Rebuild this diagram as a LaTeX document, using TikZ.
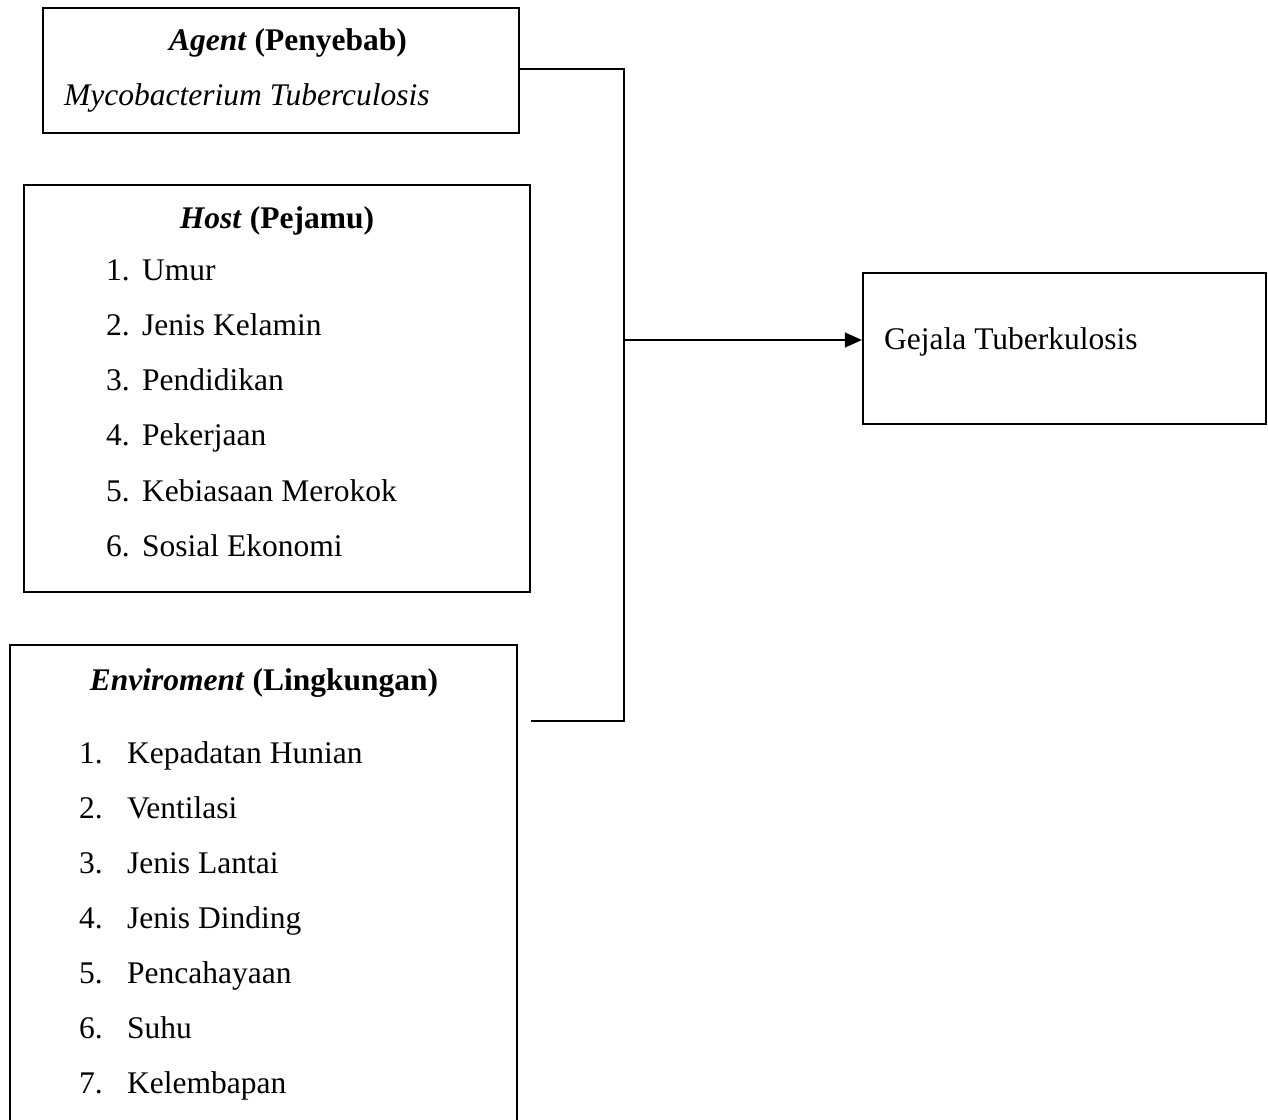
\documentclass[tikz,border=0pt]{standalone}
\usepackage{fontspec}
\setmainfont{Liberation Serif}
\usetikzlibrary{arrows.meta}
\begin{document}
\begin{tikzpicture}[x=1pt,y=-1pt,
  box/.style={draw,line width=2.3pt,inner sep=0pt},
  txt/.style={inner sep=0pt,anchor=base west,font=\fontsize{31.5}{38}\selectfont},
  ttl/.style={inner sep=0pt,anchor=base,font=\fontsize{31.5}{38}\selectfont\bfseries},
  conn/.style={line width=1.4pt}]
\useasboundingbox (0,0) rectangle (1268,1119);
% boxes
\node[box,minimum width=476pt,minimum height=125pt] (agent) at (281,70.5) {};
\node[box,minimum width=506pt,minimum height=407pt] (host) at (277,388.5) {};
\node[box,minimum width=507pt,minimum height=505pt] (env) at (263.5,897.5) {};
\node[box,minimum width=403pt,minimum height=151pt] (gejala) at (1064.5,348.5) {};
% agent texts
\node[ttl] (agentT) at (288,50) {\textit{Agent} (Penyebab)};
\node[txt] (agentI) at (64,105) {\textit{Mycobacterium Tuberculosis}};
% host texts
\node[ttl] (hostT) at (277,228) {\textit{Host} (Pejamu)};
\foreach \n/\t [count=\i] in {1/Umur,2/Jenis Kelamin,3/Pendidikan,4/Pekerjaan,5/Kebiasaan Merokok,6/Sosial Ekonomi}{
  \node[txt] (hn\i) at (106,{280+55.3*(\i-1)}) {\n.};
  \node[txt] (ht\i) at (142,{280+55.3*(\i-1)}) {\t};
}
% environment texts
\node[ttl] (envT) at (264,690) {\textit{Enviroment} (Lingkungan)};
\foreach \n/\t [count=\i] in {1/Kepadatan Hunian,2/Ventilasi,3/Jenis Lantai,4/Jenis Dinding,5/Pencahayaan,6/Suhu,7/Kelembapan}{
  \node[txt] (en\i) at (79,{763+55*(\i-1)}) {\n.};
  \node[txt] (et\i) at (127,{763+55*(\i-1)}) {\t};
}
% gejala text
\node[txt] (gejalaT) at (884,349) {Gejala Tuberkulosis};
% connectors
\coordinate (top) at (624,69);
\coordinate (bot) at (624,721);
\coordinate (envend) at (531,721);
\coordinate (mid) at (624,340);
\draw[conn] (agent.east |- top) -- (top) -- (bot) -- (envend);
\draw[conn,-{Triangle[length=17pt,width=15pt]}] (mid) -- (gejala.west |- mid);
\end{tikzpicture}
\end{document}
